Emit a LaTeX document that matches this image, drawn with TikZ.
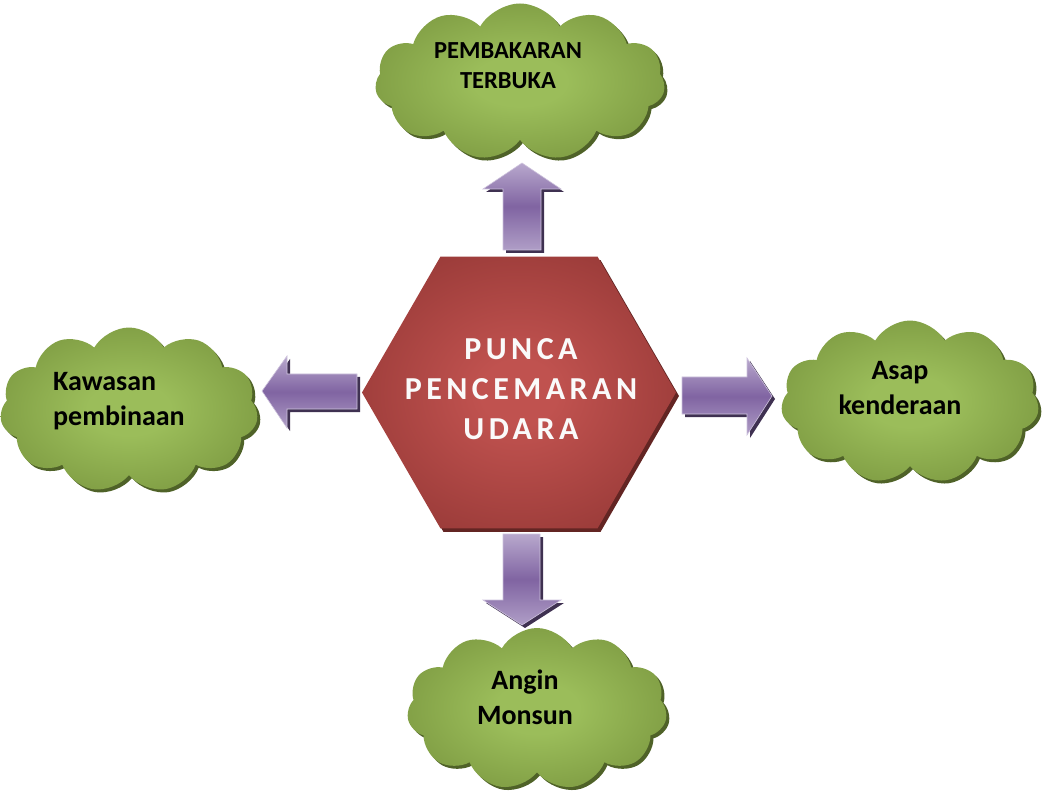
\documentclass[tikz,border=0pt]{standalone}
\usepackage{fontspec}
\setmainfont{Carlito}
\newfontfamily\hexfont[LetterSpace=14]{Carlito}
\usetikzlibrary{shapes.geometric,shapes.symbols,calc}
\definecolor{gIn}{RGB}{155,189,90}
\definecolor{gOut}{RGB}{118,146,60}
\definecolor{gShadow}{RGB}{79,98,40}
\definecolor{rIn}{RGB}{192,82,79}
\definecolor{rOut}{RGB}{146,54,52}
\definecolor{rShadow}{RGB}{99,37,35}
\definecolor{pLight}{RGB}{184,168,205}
\definecolor{pMid}{RGB}{128,100,162}
\definecolor{pShadow}{RGB}{63,49,81}
\pgfdeclareradialshading{greenrad}{\pgfpoint{0bp}{0bp}}{color(0bp)=(gIn); color(8bp)=(gIn); color(34bp)=(gOut); color(50bp)=(gOut)}
\pgfdeclareradialshading{redrad}{\pgfpoint{0bp}{0bp}}{color(0bp)=(rIn); color(6bp)=(rIn); color(34bp)=(rOut); color(50bp)=(rOut)}
\tikzset{
  cloudbox/.style={cloud, cloud puffs=11, cloud puff arc=120, cloud ignores aspect, inner sep=0pt, draw=none},
  cloudfill/.style={cloudbox, shading=greenrad},
  cloudshadow/.style={cloudbox, fill=gShadow},
  cloudtext/.style={font=\bfseries\fontsize{28}{35}\selectfont, align=center, inner sep=0pt},
  hexbox/.style={regular polygon, regular polygon sides=6, minimum size=314pt, inner sep=0pt, draw=none},
  hextext/.style={font=\hexfont\bfseries\fontsize{32}{40}\selectfont, align=center, inner sep=0pt},
  arrowfill/.style={top color=pLight, bottom color=pLight!85!pMid, middle color=pMid, draw=pLight!70!white, line width=0.6pt},
  arrowshadow/.style={fill=pShadow, draw=none},
}
\begin{document}
\begin{tikzpicture}[x=1pt,y=-1pt]
\useasboundingbox (0,0) rectangle (1042,794);
% clouds
\node[cloudshadow, minimum width=290pt, minimum height=157pt] (c1s) at (523,85) {};
\node[cloudfill, minimum width=290pt, minimum height=157pt] (c1) at (520,82) {};
\node[cloudshadow, minimum width=258pt, minimum height=165pt] (c2s) at (132,413) {};
\node[cloudfill, minimum width=258pt, minimum height=165pt] (c2) at (129,410) {};
\node[cloudshadow, minimum width=258pt, minimum height=163pt] (c3s) at (913,405) {};
\node[cloudfill, minimum width=258pt, minimum height=163pt] (c3) at (910,402) {};
\node[cloudshadow, minimum width=260pt, minimum height=162pt] (c4s) at (540,712) {};
\node[cloudfill, minimum width=260pt, minimum height=162pt] (c4) at (537,709) {};
% cloud texts
\node[cloudtext, font=\bfseries\fontsize{24.5}{30}\selectfont] (t1) at (508,65.5) {PEMBAKARAN\\TERBUKA};
\node[cloudtext, align=left, anchor=west] (t2) at (53,401) {Kawasan\\pembinaan};
\node[cloudtext] (t3) at (900,388.5) {Asap\\kenderaan};
\node[cloudtext] (t4) at (525,697.5) {Angin\\Monsun};
% arrows (shadow first)
\foreach \dx/\dy/\st in {3/3/arrowshadow, 0/0/arrowfill} {
  \begin{scope}[shift={(\dx,\dy)}]
    % up
    \path[\st] (522,163) -- (561,189) -- (541,189) -- (541,250) -- (503,250) -- (503,189) -- (483,189) -- cycle;
    % down
    \path[\st] (503,534) -- (540,534) -- (540,600) -- (561,600) -- (522,625) -- (483,600) -- (503,600) -- cycle;
    % left
    \path[\st] (262,391) -- (287,356) -- (287,374) -- (357,374) -- (357,409) -- (287,409) -- (287,428) -- cycle;
    % right
    \path[\st] (682,377) -- (747,377) -- (747,358) -- (772,396) -- (747,435) -- (747,414) -- (682,414) -- cycle;
  \end{scope}
}
% hexagon
\node[hexbox, fill=rShadow] (hexs) at (522,396) {};
\node[hexbox, shading=redrad] (hex) at (519,392.5) {};
\node[hextext, text=white!96!gray] (ht) at (521,389) {PUNCA\\PENCEMARAN\\UDARA};
\end{tikzpicture}
\end{document}
